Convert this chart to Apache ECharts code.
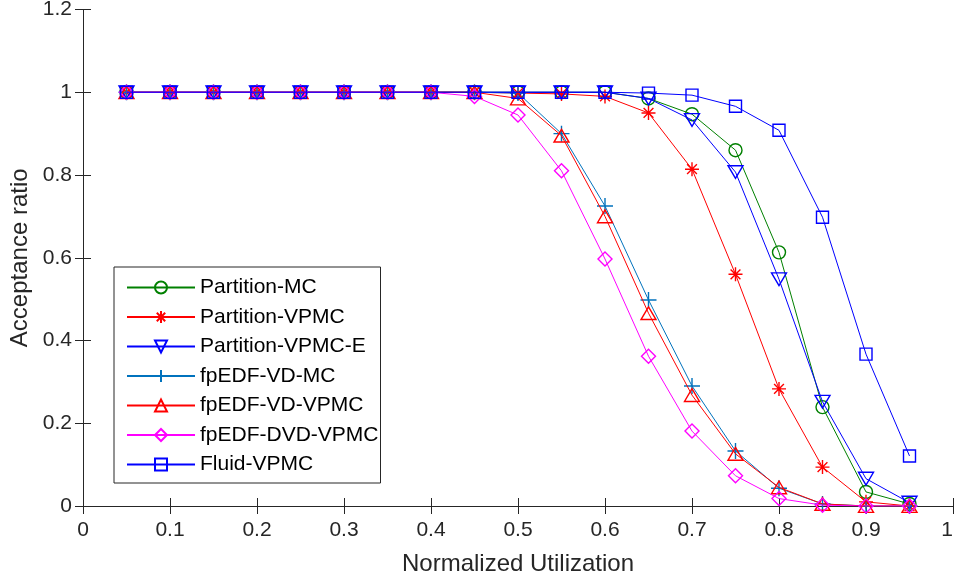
<!DOCTYPE html>
<html><head><meta charset="utf-8">
<script src="https://cdn.jsdelivr.net/npm/echarts@6/dist/echarts.min.js"></script>
<style>html,body{margin:0;padding:0;background:#fff}#c{width:955px;height:577px}</style>
</head><body><div id="c"></div>
<script>
const xVals = [0.05,0.1,0.15,0.2,0.25,0.3,0.35,0.4,0.45,0.5,0.55,0.6,0.65,0.7,0.75,0.8,0.85,0.9,0.95];
const partitionMC   = [1,1,1,1,1,1,1,1,1,1,1,1,0.985,0.947,0.86,0.613,0.239,0.034,0.005];
const partitionVPMC = [1,1,1,1,1,1,1,1,1,0.998,0.996,0.99,0.95,0.814,0.56,0.283,0.094,0.01,0];
const partitionVPMCE= [1,1,1,1,1,1,1,1,1,1,1,1,0.985,0.933,0.807,0.548,0.252,0.066,0.008];
const fpEDFVDMC     = [1,1,1,1,1,1,1,1,1,0.998,0.90,0.725,0.498,0.29,0.133,0.043,0.005,0,0];
const fpEDFVDVPMC   = [1,1,1,1,1,1,1,1,1,0.985,0.895,0.70,0.466,0.268,0.126,0.045,0.005,0,0];
const fpEDFDVDVPMC  = [1,1,1,1,1,1,1,1,0.99,0.945,0.81,0.597,0.362,0.181,0.073,0.018,0.002,0,0];
const fluidVPMC     = [1,1,1,1,1,1,1,1,1,1,1,1,0.998,0.993,0.966,0.908,0.698,0.367,0.121];
const seriesNames = ['Partition-MC','Partition-VPMC','Partition-VPMC-E','fpEDF-VD-MC','fpEDF-VD-VPMC','fpEDF-DVD-VPMC','Fluid-VPMC'];
const seriesData = [partitionMC,partitionVPMC,partitionVPMCE,fpEDFVDMC,fpEDFVDVPMC,fpEDFDVDVPMC,fluidVPMC];

const colors = ['#008000','#ff0000','#0000ff','#0072bd','#ff0000','#ff00ff','#0000ff'];
const symbols = [
  'circle',
  'path://M0,-1L0,1M-1,0L1,0M-0.7,-0.7L0.7,0.7M-0.7,0.7L0.7,-0.7',
  'path://M-1,-0.85L1,-0.85L0,0.85Z',
  'path://M0,-1L0,1M-1,0L1,0',
  'path://M-1,0.85L1,0.85L0,-0.85Z',
  'path://M0,-1L1,0L0,1L-1,0Z',
  'rect'
];
const sizes = [13,14,15,16,15,14,12];
const axisCol = '#262626';
const font = 'Liberation Sans, Arial, Helvetica, sans-serif';

const series = seriesNames.map((n,i)=>({
  name:n, type:'line', xAxisIndex:0, yAxisIndex:0,
  data: xVals.map((x,j)=>[x, seriesData[i][j]]),
  symbol: symbols[i], symbolSize: sizes[i], symbolKeepAspect:true,
  showAllSymbol:true,
  lineStyle:{color:colors[i], width:1},
  itemStyle:{color:'rgba(0,0,0,0)', borderColor:colors[i], borderWidth:1.4},
  emphasis:{disabled:true},
  animation:false, z: 2+i
}));

const chart = echarts.init(document.getElementById('c'), null, {renderer:'canvas'});
chart.setOption({
  backgroundColor:'#fff',
  animation:false,
  grid:{left:83, right:2, top:9.5, bottom:71, containLabel:false, outerBoundsMode:'none'},
  legend:{
    orient:'vertical', left:114, top:267,
    data: seriesNames,
    itemWidth:68, itemHeight:15, itemGap:8.5,
    padding:[10,2,8,12],
    borderColor:axisCol, borderWidth:1, backgroundColor:'#fff',
    textStyle:{fontSize:21, color:'#000', fontFamily:font, padding:[0,0,0,0]},
    z: 20
  },
  xAxis:[{
    type:'value', min:0, max:1, interval:0.1,
    name:'Normalized Utilization', nameLocation:'middle', nameGap:46,
    nameTextStyle:{fontSize:24, color:axisCol, fontFamily:font},
    axisLine:{show:true, onZero:false, lineStyle:{color:axisCol, width:1}},
    axisTick:{show:true, inside:true, length:8, lineStyle:{color:axisCol}},
    axisLabel:{fontSize:21, color:axisCol, fontFamily:font, margin:14, alignMaxLabel:'right'},
    splitLine:{show:false}
  },{
    type:'value', min:0, max:1, interval:0.1, position:'top',
    axisLine:{show:true, lineStyle:{color:axisCol, width:1}},
    axisTick:{show:true, inside:true, length:8, lineStyle:{color:axisCol}},
    axisLabel:{show:false}, splitLine:{show:false}
  }],
  yAxis:[{
    type:'value', min:0, max:1.2, interval:0.2,
    name:'Acceptance ratio', nameLocation:'middle', nameGap:47,
    nameTextStyle:{fontSize:24, color:axisCol, fontFamily:font},
    axisLine:{show:true, onZero:false, lineStyle:{color:axisCol, width:1}},
    axisTick:{show:true, inside:true, length:8, lineStyle:{color:axisCol}},
    axisLabel:{fontSize:21, color:axisCol, fontFamily:font, margin:11, padding:[5,0,0,0]},
    splitLine:{show:false}
  },{
    type:'value', min:0, max:1.2, interval:0.2, position:'right',
    axisLine:{show:true, lineStyle:{color:axisCol, width:1}},
    axisTick:{show:true, inside:true, length:8, lineStyle:{color:axisCol}},
    axisLabel:{show:false}, splitLine:{show:false}
  }],
  series: series
});
</script></body></html>
